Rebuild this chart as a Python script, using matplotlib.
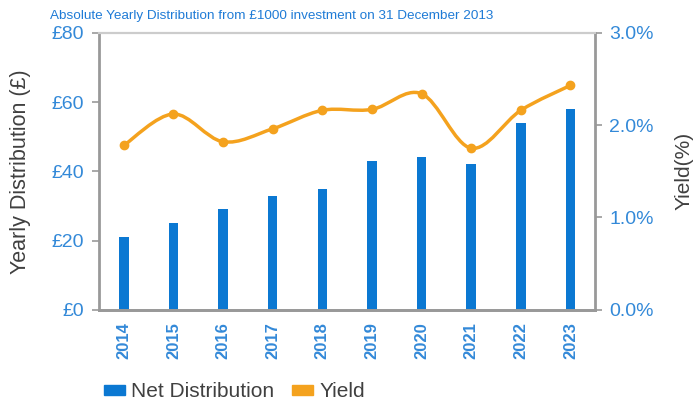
import matplotlib.pyplot as plt
from matplotlib.path import Path
from matplotlib.patches import PathPatch, Patch
import numpy as np

years = ["2014", "2015", "2016", "2017", "2018", "2019", "2020", "2021", "2022", "2023"]
net_distribution = [21, 25, 29, 33, 35, 43, 44, 42, 54, 58]
yield_pct = [1.78, 2.12, 1.82, 1.96, 2.16, 2.17, 2.34, 1.75, 2.16, 2.43]

bar_col = "#0b78d2"
line_col = "#f4a21e"
tick_col = "#3389d8"
grey = "#999999"
text_col = "#404040"

plt.rcParams['font.family'] = ['Liberation Sans', 'DejaVu Sans']

fig = plt.figure(figsize=(6.97, 4.04), dpi=100)
ax = fig.add_axes([0.142, 0.233, 0.712, 0.686])
ax2 = ax.twinx()

x = np.arange(len(years))
ax.bar(x, net_distribution, width=0.19, color=bar_col, zorder=2)
ax.set_xlim(-0.5, len(years) - 0.5)
ax.set_ylim(0, 80)
ax.set_yticks([0, 20, 40, 60, 80])
ax.set_yticklabels([f"£{v}" for v in [0, 20, 40, 60, 80]])
ax.set_xticks(x)
ax.set_xticklabels(years, rotation=90, fontweight="bold")

# smoothed line (Catmull-Rom style bezier, like Excel)
pts = np.column_stack([x, yield_pct])
verts = [tuple(pts[0])]
codes = [Path.MOVETO]
for i in range(len(pts) - 1):
    p0 = pts[i - 1] if i > 0 else pts[i]
    p1 = pts[i]
    p2 = pts[i + 1]
    p3 = pts[i + 2] if i + 2 < len(pts) else pts[i + 1]
    c1 = p1 + (p2 - p0) / 6
    c2 = p2 - (p3 - p1) / 6
    verts += [tuple(c1), tuple(c2), tuple(p2)]
    codes += [Path.CURVE4] * 3
ax2.add_patch(PathPatch(Path(verts, codes), facecolor="none", edgecolor=line_col,
                        lw=2.5, zorder=3, capstyle="round", joinstyle="round"))
ax2.plot(x, yield_pct, "o", color=line_col, markersize=6, zorder=4)
ax2.set_ylim(0, 3)
ax2.set_yticks([0, 1, 2, 3])
ax2.set_yticklabels(["0.0%", "1.0%", "2.0%", "3.0%"])

for a in (ax, ax2):
    for s in ("left", "right", "bottom"):
        a.spines[s].set_color(grey)
        a.spines[s].set_linewidth(2)
    a.spines["top"].set_color("#cccccc")
    a.spines["top"].set_linewidth(1.5)
    a.tick_params(axis="y", colors=grey, labelcolor=tick_col, labelsize=14,
                  width=1.2, length=5)
ax.tick_params(axis="y", pad=6)
ax2.tick_params(axis="y", pad=5)
ax.spines["right"].set_visible(False)
ax2.spines["left"].set_visible(False)
ax.tick_params(axis="x", length=0, labelcolor=tick_col, labelsize=12, pad=9)

ax.set_ylabel("Yearly Distribution (£)", fontsize=15.5, color=text_col)
ax.yaxis.set_label_coords(-0.136, 0.5)
ax2.set_ylabel("Yield(%)", fontsize=15, color=text_col, rotation=90)
ax2.yaxis.set_label_coords(1.16, 0.5)

fig.text(0.39, 0.96, "Absolute Yearly Distribution from £1000 investment on 31 December 2013",
         ha="center", va="center", fontsize=9.7, color="#1f7bd6")

handles = [Patch(color=bar_col), Patch(color=line_col)]
fig.legend(handles, ["Net Distribution", "Yield"], loc="center left",
           bbox_to_anchor=(0.122, 0.03), ncol=2, frameon=False, fontsize=15,
           handlelength=1.0, handleheight=0.4, handletextpad=0.3, columnspacing=0.87,
           labelcolor=text_col)

fig.savefig("out.png", dpi=100)
